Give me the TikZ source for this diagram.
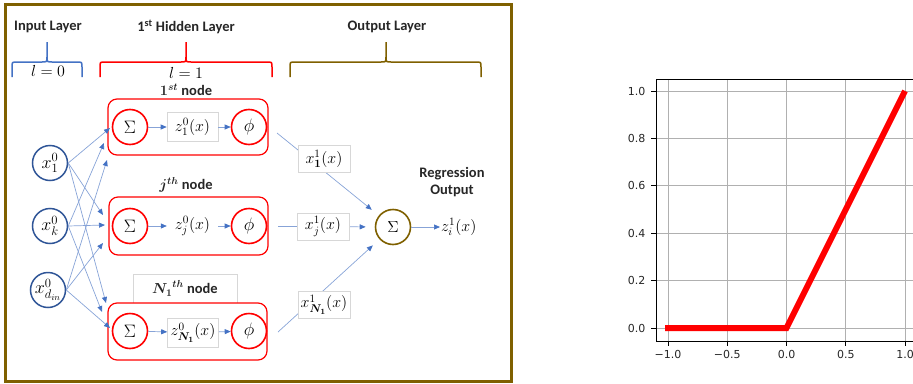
\RequirePackage{fix-cm}
\documentclass[tikz,border=0pt]{standalone}
\usepackage{amsmath,bm}
\usepackage[no-math]{fontspec}
\newfontfamily\carl{Carlito}
\newfontfamily\djv{DejaVu Sans}
\usetikzlibrary{arrows.meta}
\definecolor{brn}{RGB}{127,96,0}
\definecolor{myred}{RGB}{255,0,0}
\definecolor{dblue}{RGB}{47,85,151}
\definecolor{lblue}{RGB}{68,114,196}
\definecolor{lline}{RGB}{135,163,215}
\definecolor{gbox}{RGB}{215,215,215}
\definecolor{gridc}{RGB}{176,176,176}
\definecolor{tickc}{RGB}{38,38,38}
\begin{document}
\begin{tikzpicture}[x=1pt,y=-1pt,
  title/.style={font=\carl\bfseries\fontsize{14.5}{16}\selectfont, text=black!85, align=center},
  mth/.style={font=\fontsize{16}{18}\selectfont},
  inode/.style={circle,draw=dblue,line width=1.5pt,minimum size=35pt,inner sep=0pt,font=\fontsize{18}{20}\selectfont},
  rnode/.style={circle,draw=myred,line width=1.6pt,minimum size=35pt,inner sep=0pt,font=\fontsize{18}{20}\selectfont},
  onode/.style={circle,draw=brn,line width=1.6pt,minimum size=35pt,inner sep=0pt,font=\fontsize{16}{18}\selectfont},
  rbox/.style={draw=myred,line width=1.2pt,rounded corners=9pt},
  brace/.style={line width=1.5pt},
  zbox/.style={draw=gbox,fill=white,line width=0.6pt,minimum width=51pt,minimum height=29pt,inner sep=0pt,font=\fontsize{16}{18}\selectfont},
  zplain/.style={minimum width=51pt,minimum height=20pt,inner sep=0pt,font=\fontsize{16}{18}\selectfont},
  lab/.style={draw=gbox,fill=white,line width=0.6pt,minimum width=52pt,minimum height=27pt,inner sep=0pt,font=\fontsize{16}{18}\selectfont},
  conn/.style={draw=lline,line width=0.7pt,-{Triangle[length=6pt,width=5pt,color=lblue]}},
  gridl/.style={draw=gridc,line width=0.8pt},
  tickl/.style={font=\djv\fontsize{11}{13}\selectfont,text=tickc}
]
\useasboundingbox (0,0) rectangle (913,383);
% frame
\draw[brn,line width=3pt] (5.7,4.5) rectangle (511.5,381);
% titles
\node[title] (tin) at (48,27) {Input Layer};
\node[title] (thid) at (186,27) {1\textsuperscript{st} Hidden Layer};
\node[title] (tout) at (387,27) {Output Layer};
% braces
\draw[brace,lblue] (12,77) -- (12,67) .. controls (12,62) .. (17,62) -- (42,62) .. controls (47,62) .. (47,57) -- (47,42)
  -- (47,57) .. controls (47,62) .. (52,62) -- (77,62) .. controls (82,62) .. (82,67) -- (82,77);
\draw[brace,myred] (100,77) -- (100,67) .. controls (100,62) .. (105,62) -- (181,62) .. controls (186,62) .. (186,57) -- (186,42)
  -- (186,57) .. controls (186,62) .. (191,62) -- (267,62) .. controls (272,62) .. (272,67) -- (272,77);
\draw[brace,brn] (290,77) -- (290,67) .. controls (290,62) .. (295,62) -- (381,62) .. controls (386,62) .. (386,57) -- (386,42)
  -- (386,57) .. controls (386,62) .. (391,62) -- (476,62) .. controls (481,62) .. (481,67) -- (481,77);
\node[mth] (l0) at (48,71) {$l=0$};
\node[mth] (l1) at (186,73) {$l=1$};
% node labels
\node[title] (n1lab) at (186,90) {$\bm{1^{st}}$ node};
\node[title] (njlab) at (186,185) {$\bm{j^{th}}$ node};
\node[title,draw=gbox,line width=0.6pt,fill=white,minimum width=104pt,minimum height=29pt,inner sep=0pt] (nNlab) at (185,288.5) {${\bm{N_1}}^{\bm{th}}$ node};
% hidden boxes
\draw[rbox] (108,99) rectangle (268,155);
\draw[rbox] (109,197) rectangle (268,255);
\draw[rbox,fill=white] (108,303) rectangle (267,360);
% inputs
\node[inode] (x1) at (50,163) {$x_1^0$};
\node[inode] (xk) at (50,226) {$x_k^0$};
\node[inode] (xd) at (48,290) {$x_{d_{in}}^0$};
% hidden nodes
\node[rnode] (s1) at (130,127) {$\Sigma$};
\node[zbox] (z1) at (192.5,127) {$z_1^0(x)$};
\node[rnode] (p1) at (249,127) {$\phi$};
\node[rnode] (s2) at (130,226) {$\Sigma$};
\node[zplain] (z2) at (192.5,226) {$z_j^0(x)$};
\node[rnode] (p2) at (249,226) {$\phi$};
\node[rnode] (s3) at (130,331) {$\Sigma$};
\node[zbox] (z3) at (193,332.5) {$z_{\bm{N_1}}^0(x)$};
\node[rnode] (p3) at (249,331) {$\phi$};
\draw[conn] (s1) -- (z1);
\draw[conn] (z1) -- (p1);
\draw[conn] (s2) -- (z2);
\draw[conn] (z2) -- (p2);
\draw[conn] (s3) -- (z3);
\draw[conn] (z3) -- (p3);
% input connector ends
\coordinate (e11) at (110,128);
\coordinate (e12) at (104,143);
\coordinate (e13) at (107,160);
\coordinate (e21) at (103,215);
\coordinate (e22) at (105,225);
\coordinate (e23) at (103,243);
\coordinate (e31) at (106,303);
\coordinate (e32) at (102,312);
\coordinate (e33) at (110,328);
\draw[conn] (x1.east) -- (e11);
\draw[conn] (xk.east) -- (e12);
\draw[conn] (xd.east) -- (e13);
\draw[conn] (x1.east) -- (e21);
\draw[conn] (xk.east) -- (e22);
\draw[conn] (xd.east) -- (e23);
\draw[conn] (x1.east) -- (e31);
\draw[conn] (xk.east) -- (e32);
\draw[conn] (xd.east) -- (e33);
% output
\node[onode] (os) at (393,227) {$\Sigma$};
\coordinate (o1) at (277,133);
\coordinate (o2) at (278,226.5);
\coordinate (o3) at (278,332);
\draw[conn,shorten >=9pt] (o1) -- (os);
\draw[conn,shorten >=9pt] (o2) -- (os);
\draw[conn,shorten >=9pt] (o3) -- (os);
\node[lab] (lb1) at (324,159) {$x_{\bm{1}}^1(x)$};
\node[lab] (lb2) at (323,226.5) {$x_j^1(x)$};
\node[lab] (lb3) at (324,304.5) {$x_{\bm{N_1}}^1(x)$};
\node[mth,anchor=west,inner sep=1pt] (zo) at (440,227) {$z_i^1(x)$};
\draw[conn] (os) -- (zo);
\node[title] (reg) at (452,182) {Regression\\[1pt]Output};
% ---------------- ReLU plot ----------------
\foreach \gx in {668,727.25,786.5,845.75,905} {
  \draw[gridl] (\gx,79) -- (\gx,341);
  \draw[draw=black,line width=0.8pt] (\gx,341) -- (\gx,346);
}
\foreach \gy in {91,138.4,185.8,233.2,280.6,328} {
  \draw[gridl] (656,\gy) -- (913,\gy);
  \draw[draw=black,line width=0.8pt] (656,\gy) -- (651,\gy);
}
\draw[black,line width=0.8pt] (913,79) -- (656,79) -- (656,341) -- (913,341);
\node[tickl,anchor=east] (y0) at (649,328) {0.0};
\node[tickl,anchor=east] (y2) at (649,280.6) {0.2};
\node[tickl,anchor=east] (y4) at (649,233.2) {0.4};
\node[tickl,anchor=east] (y6) at (649,185.8) {0.6};
\node[tickl,anchor=east] (y8) at (649,138.4) {0.8};
\node[tickl,anchor=east] (y10) at (649,91) {1.0};
\node[tickl] (xa) at (668,354) {−1.0};
\node[tickl] (xb) at (727.25,354) {−0.5};
\node[tickl] (xc) at (786.5,354) {0.0};
\node[tickl] (xdd) at (845.75,354) {0.5};
\node[tickl] (xe) at (905,354) {1.0};
\draw[myred,line width=6pt,line join=miter] (665,328) -- (786.5,328) -- (905,91);
\end{tikzpicture}
\end{document}
